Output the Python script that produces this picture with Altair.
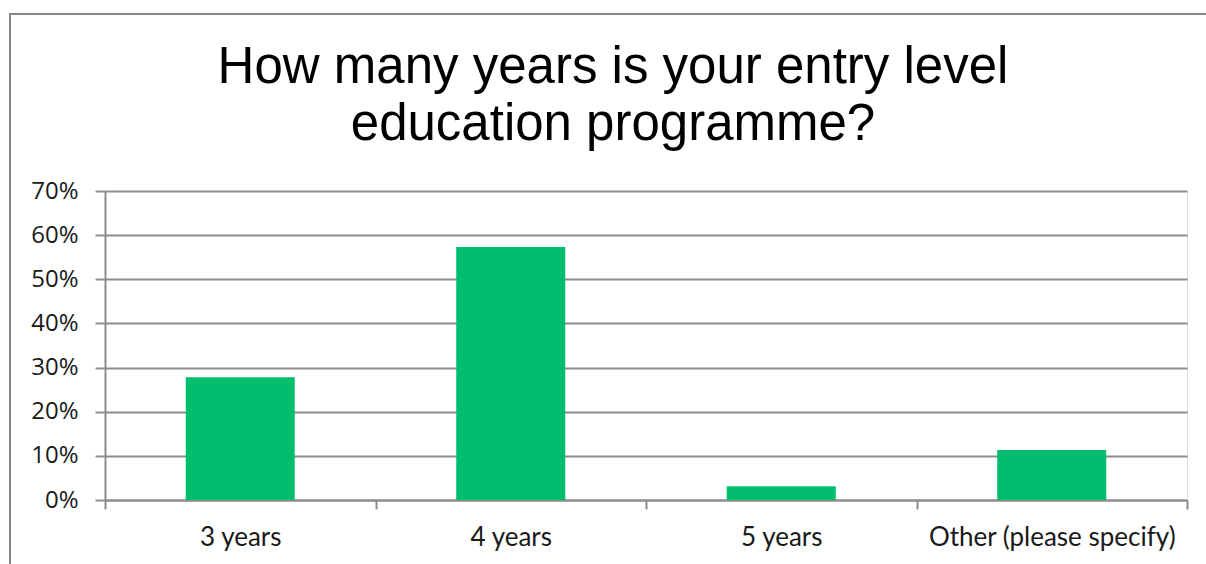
import altair as alt
import pandas as pd

categories = ["3 years", "4 years", "5 years", "Other (please specify)"]
shares = [0.278, 0.573, 0.031, 0.113]
y_ticks = [0, 0.1, 0.2, 0.3, 0.4, 0.5, 0.6, 0.7]
title_lines = ["How many years is your entry level", "education programme?"]

df = pd.DataFrame({"category": categories, "share": shares})

GRAY = "#8c8c8c"
GREEN = "#00BE6E"
W, H = 1082, 309

bars = alt.Chart(df).mark_bar(color=GREEN, width=alt.RelativeBandSize(0.403)).encode(
    x=alt.X(
        "category:N",
        sort=categories,
        title=None,
        scale=alt.Scale(paddingInner=0, paddingOuter=0),
        axis=alt.Axis(
            labelAngle=0,
            labelFont="Lato",
            labelFontSize=26,
            labelColor="#1a1a1a",
            labelPadding=15,
            labelLimit=0,
            tickBand="extent",
            tickSize=9,
            tickColor=GRAY,
            tickWidth=2,
            domainColor=GRAY,
            domainWidth=2,
            grid=False,
        ),
    ),
    y=alt.Y(
        "share:Q",
        title=None,
        scale=alt.Scale(domain=[0, 0.7], nice=False),
        axis=alt.Axis(
            values=y_ticks,
            format=".0%",
            labelFont="Open Sans",
            labelFontSize=24,
            labelColor="#1a1a1a",
            labelPadding=17,
            tickSize=10,
            tickColor=GRAY,
            tickWidth=2,
            domainColor=GRAY,
            domainWidth=2,
            grid=True,
            gridColor=GRAY,
            gridWidth=2,
        ),
    ),
)

border = alt.Chart(pd.DataFrame({"k": [0]})).mark_rect(
    fill=None, stroke="#878787", strokeWidth=2, clip=False
).encode(
    x=alt.value(-95), x2=alt.value(W + 40),
    y=alt.value(-177), y2=alt.value(H + 120),
)

chart = alt.layer(border, bars).properties(
    width=W,
    height=H,
    padding={"left": 105, "top": 191, "right": 19, "bottom": 64},
    autosize=alt.AutoSizeParams(type="none"),
    title=alt.TitleParams(
        text=title_lines,
        font="Liberation Sans",
        fontSize=51,
        fontWeight="normal",
        color="#000000",
        lineHeight=57,
        anchor="middle",
        frame="group",
        baseline="alphabetic",
        dx=-33,
        dy=178,
        offset=0,
    ),
).configure_view(stroke=None).configure(background="white")

chart.save("out.html", embed_options={"renderer": "svg", "actions": False})
